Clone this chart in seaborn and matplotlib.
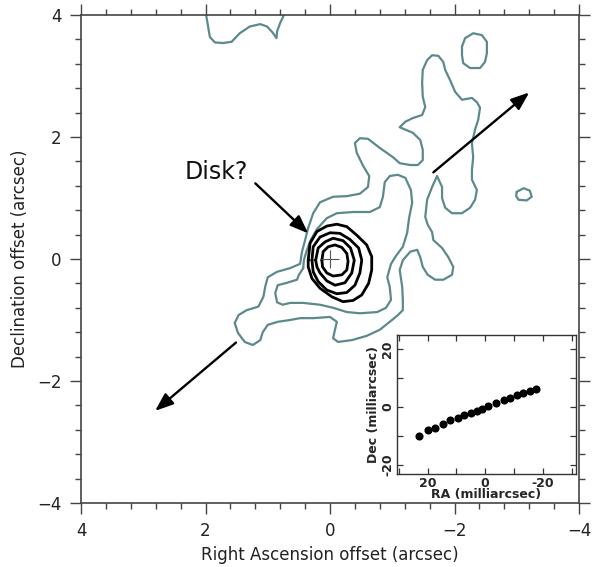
import numpy as np
import matplotlib
matplotlib.use('Agg')
import matplotlib.pyplot as plt
from matplotlib.ticker import MultipleLocator, FixedLocator
import seaborn as sns

# ---------------------------------------------------------------
# Data (arcsec offsets)
# ---------------------------------------------------------------
# top-left open contour (touches the upper edge)
top_x = [1.99, 1.93, 1.85, 1.72, 1.58, 1.45, 1.29, 1.12, 1.01, 0.92, 0.86, 0.85, 0.80, 0.74]
top_y = [4.00, 3.64, 3.55, 3.54, 3.56, 3.70, 3.81, 3.85, 3.81, 3.71, 3.62, 3.73, 3.87, 4.00]

# small island, upper right
isl_x = [-2.12, -2.17, -2.30, -2.44, -2.52, -2.52, -2.49, -2.41, -2.25, -2.14, -2.12, -2.12]
isl_y = [3.48, 3.62, 3.70, 3.67, 3.56, 3.37, 3.23, 3.13, 3.13, 3.21, 3.34, 3.48]

# tiny island, right
dot_x = [-3.00, -3.11, -3.21, -3.24, -3.16, -3.03, -2.99, -3.00]
dot_y = [1.10, 1.16, 1.12, 1.02, 0.96, 0.97, 1.03, 1.10]

# lowest contour level (the jet envelope)
outer_x = [1.53, 1.47, 1.34, 1.15, 1.07, 1.04, 1.00, 0.85, 0.64, 0.48, 0.45, 0.40, 0.35, 0.27,
           0.16, -0.05, -0.27, -0.48, -0.61, -0.63, -0.53, -0.43, -0.40, -0.48, -0.61, -0.80,
           -1.01, -1.12, -1.29, -1.41, -1.49, -1.49, -1.45, -1.33, -1.21, -1.12, -1.21, -1.33,
           -1.48, -1.53, -1.49, -1.48, -1.49, -1.56, -1.64, -1.74, -1.82, -1.85, -1.93, -2.01,
           -2.12, -2.28, -2.36, -2.41, -2.38, -2.33, -2.28, -2.30, -2.28, -2.28, -2.36, -2.33,
           -2.25, -2.12, -1.96, -1.85, -1.80, -1.80, -1.72, -1.64, -1.56, -1.53, -1.57, -1.64,
           -1.66, -1.80, -1.90, -1.98, -1.96, -1.82, -1.69, -1.57, -1.49, -1.45, -1.40, -1.29,
           -1.17, -1.12, -1.16, -1.17, -1.17, -1.08, -0.96, -0.80, -0.59, -0.35, -0.13, -0.05,
           -0.08, -0.11, 0.00, 0.27, 0.48, 0.64, 0.84, 1.00, 1.08, 1.12, 1.24, 1.37, 1.48, 1.53]
outer_y = [-1.05, -0.92, -0.84, -0.78, -0.62, -0.45, -0.30, -0.21, -0.15, -0.08, 0.12, 0.31,
           0.51, 0.75, 0.93, 1.02, 1.03, 1.07, 1.18, 1.36, 1.53, 1.74, 1.90, 1.98, 1.97, 1.82,
           1.67, 1.57, 1.54, 1.54, 1.62, 1.79, 1.95, 2.07, 2.12, 2.16, 2.25, 2.31, 2.36, 2.49,
           2.66, 2.89, 3.10, 3.26, 3.34, 3.33, 3.23, 3.10, 2.93, 2.74, 2.61, 2.64, 2.57, 2.48,
           2.28, 2.12, 1.90, 1.67, 1.46, 1.30, 1.13, 0.97, 0.84, 0.75, 0.75, 0.84, 1.00, 1.18,
           1.36, 1.18, 0.97, 0.69, 0.56, 0.44, 0.31, 0.18, 0.03, -0.13, -0.26, -0.34, -0.34,
           -0.26, -0.13, 0.03, 0.15, 0.12, -0.02, -0.18, -0.46, -0.67, -0.84, -0.93, -1.03,
           -1.16, -1.26, -1.33, -1.36, -1.30, -1.16, -1.03, -0.95, -0.97, -0.97, -1.00, -1.03,
           -1.08, -1.20, -1.33, -1.41, -1.36, -1.21, -1.05]

# second contour level
mid_x = [0.43, 0.42, 0.37, 0.31, 0.21, 0.05, -0.11, -0.37, -0.64, -0.80, -0.85, -0.88, -0.96,
         -1.09, -1.21, -1.30, -1.32, -1.27, -1.24, -1.17, -1.06, -0.98, -0.92, -0.96, -0.98,
         -0.90, -0.76, -0.48, -0.27, -0.05, 0.16, 0.43, 0.64, 0.76, 0.85, 0.88, 0.84, 0.69,
         0.53, 0.50, 0.43]
mid_y = [-0.15, -0.02, 0.15, 0.31, 0.49, 0.67, 0.75, 0.77, 0.77, 0.85, 1.02, 1.26, 1.36, 1.38,
         1.33, 1.13, 0.92, 0.67, 0.43, 0.20, 0.05, -0.08, -0.30, -0.46, -0.67, -0.80, -0.87,
         -0.89, -0.87, -0.80, -0.75, -0.72, -0.72, -0.75, -0.71, -0.56, -0.43, -0.39, -0.34,
         -0.26, -0.15]

# bright core levels
k1_x = [0.35, 0.32, 0.21, 0.05, -0.11, -0.27, -0.43, -0.59, -0.67, -0.67, -0.62, -0.51, -0.37,
        -0.21, -0.03, 0.16, 0.29, 0.35, 0.35]
k1_y = [-0.02, 0.26, 0.45, 0.54, 0.57, 0.53, 0.39, 0.23, 0.04, -0.18, -0.40, -0.59, -0.68,
        -0.70, -0.62, -0.48, -0.32, -0.13, -0.02]
k2_x = [0.29, 0.27, 0.16, 0.00, -0.16, -0.32, -0.46, -0.51, -0.48, -0.40, -0.27, -0.11, 0.05,
        0.19, 0.27, 0.29]
k2_y = [-0.02, 0.20, 0.36, 0.43, 0.42, 0.32, 0.18, -0.02, -0.23, -0.43, -0.55, -0.57, -0.51,
        -0.37, -0.21, -0.02]
k3_x = [0.23, 0.19, 0.08, -0.05, -0.21, -0.33, -0.39, -0.35, -0.24, -0.08, 0.05, 0.16, 0.21, 0.23]
k3_y = [-0.02, 0.18, 0.28, 0.34, 0.30, 0.18, -0.02, -0.23, -0.39, -0.43, -0.36, -0.23, -0.13, -0.02]
k4_x = [0.13, 0.11, 0.03, -0.08, -0.19, -0.27, -0.29, -0.27, -0.19, -0.05, 0.05, 0.12, 0.13]
k4_y = [-0.02, 0.12, 0.20, 0.23, 0.19, 0.09, -0.04, -0.18, -0.26, -0.28, -0.23, -0.13, -0.02]

# arrows (tail -> head)
disk_arrow = [(1.20, 1.24), (0.35, 0.42)]
jet_ne = [(-1.66, 1.42), (-3.20, 2.73)]
jet_sw = [(1.51, -1.37), (2.81, -2.49)]

# inset: maser spot positions (milliarcsec)
ra_mas = [22.8, 19.9, 17.3, 14.8, 12.1, 9.6, 7.3, 5.0, 2.9, 1.0, -0.8, -3.6, -6.4, -8.5,
          -11.0, -13.1, -15.7, -17.5]
dec_mas = [-9.9, -8.1, -7.1, -5.9, -4.6, -3.8, -2.8, -1.9, -1.2, -0.5, 0.3, 1.5, 2.4, 3.2,
           4.1, 4.8, 5.7, 6.4]

GRAY = '#5c8a8c'

sns.set_style('ticks')
plt.rcParams['font.family'] = ['DejaVu Sans']

fig = plt.figure(figsize=(5.93, 5.67), dpi=100)
ax = fig.add_axes([0.1366, 0.1129, 0.8398, 0.8607])

for xs, ys in [(top_x, top_y), (isl_x, isl_y), (dot_x, dot_y), (outer_x, outer_y), (mid_x, mid_y)]:
    sns.lineplot(x=xs, y=ys, sort=False, estimator=None, color=GRAY, lw=1.6,
                 solid_joinstyle='round', solid_capstyle='round', ax=ax)
for xs, ys in [(k1_x, k1_y), (k2_x, k2_y), (k3_x, k3_y), (k4_x, k4_y)]:
    sns.lineplot(x=xs, y=ys, sort=False, estimator=None, color='black', lw=2.0,
                 solid_joinstyle='round', ax=ax)

# centre marker
ax.plot([0], [0], marker='+', ms=13, mew=0.8, color='#555555')

for (tail, head) in [disk_arrow, jet_ne, jet_sw]:
    ax.annotate('', xy=head, xytext=tail,
                arrowprops=dict(arrowstyle='-|>,head_length=1.1,head_width=0.42',
                                lw=1.7, color='black', shrinkA=0, shrinkB=0))

ax.text(1.83, 1.43, 'Disk?', fontsize=17, ha='center', va='center', color='#111111')

ax.set_xlim(4, -4)
ax.set_ylim(-4, 4)
ax.set_xticks([4, 2, 0, -2, -4])
ax.set_yticks([-4, -2, 0, 2, 4])
ax.xaxis.set_minor_locator(MultipleLocator(0.4))
ax.yaxis.set_minor_locator(MultipleLocator(0.4))
ax.tick_params(which='both', direction='out', top=True, right=True, color='#444444',
               width=1.0, labelsize=12, labelcolor='#222222')
ax.tick_params(which='major', length=8, pad=6)
ax.tick_params(which='minor', length=4.5)
for sp in ax.spines.values():
    sp.set_color('#444444')
    sp.set_linewidth(1.2)
    sp.set_visible(True)
ax.set_xlabel('Right Ascension offset (arcsec)', fontsize=12, color='#222222', labelpad=4)
ax.set_ylabel('Declination offset (arcsec)', fontsize=12, color='#222222', labelpad=6)

# inset
ins = fig.add_axes([0.669, 0.164, 0.3024, 0.2452])
sns.scatterplot(x=ra_mas, y=dec_mas, color='black', s=34, linewidth=0, ax=ins)
ins.set_xlim(30.7, -31.5)
ins.set_ylim(-23.2, 25)
ins.xaxis.set_major_locator(FixedLocator([20, 0, -20]))
ins.yaxis.set_major_locator(FixedLocator([-20, 0, 20]))
ins.xaxis.set_minor_locator(FixedLocator([30, 10, -10, -30]))
ins.yaxis.set_minor_locator(FixedLocator([-10, 10]))
ins.set_xticklabels(['20', '0', '-20'])
ins.set_yticklabels(['-20', '0', '20'], rotation=90, va='center')
ins.tick_params(which='both', direction='in', top=True, right=True, length=4,
                width=0.9, color='#333333', labelsize=9, pad=2)
for lab in ins.get_xticklabels() + ins.get_yticklabels():
    lab.set_fontweight('bold')
for sp in ins.spines.values():
    sp.set_color('#333333')
    sp.set_linewidth(1.0)
ins.set_xlabel('RA (milliarcsec)', fontsize=9, fontweight='bold', labelpad=-1)
ins.set_ylabel('Dec (milliarcsec)', fontsize=9, fontweight='bold', labelpad=1)

fig.savefig('out.png', dpi=100)
